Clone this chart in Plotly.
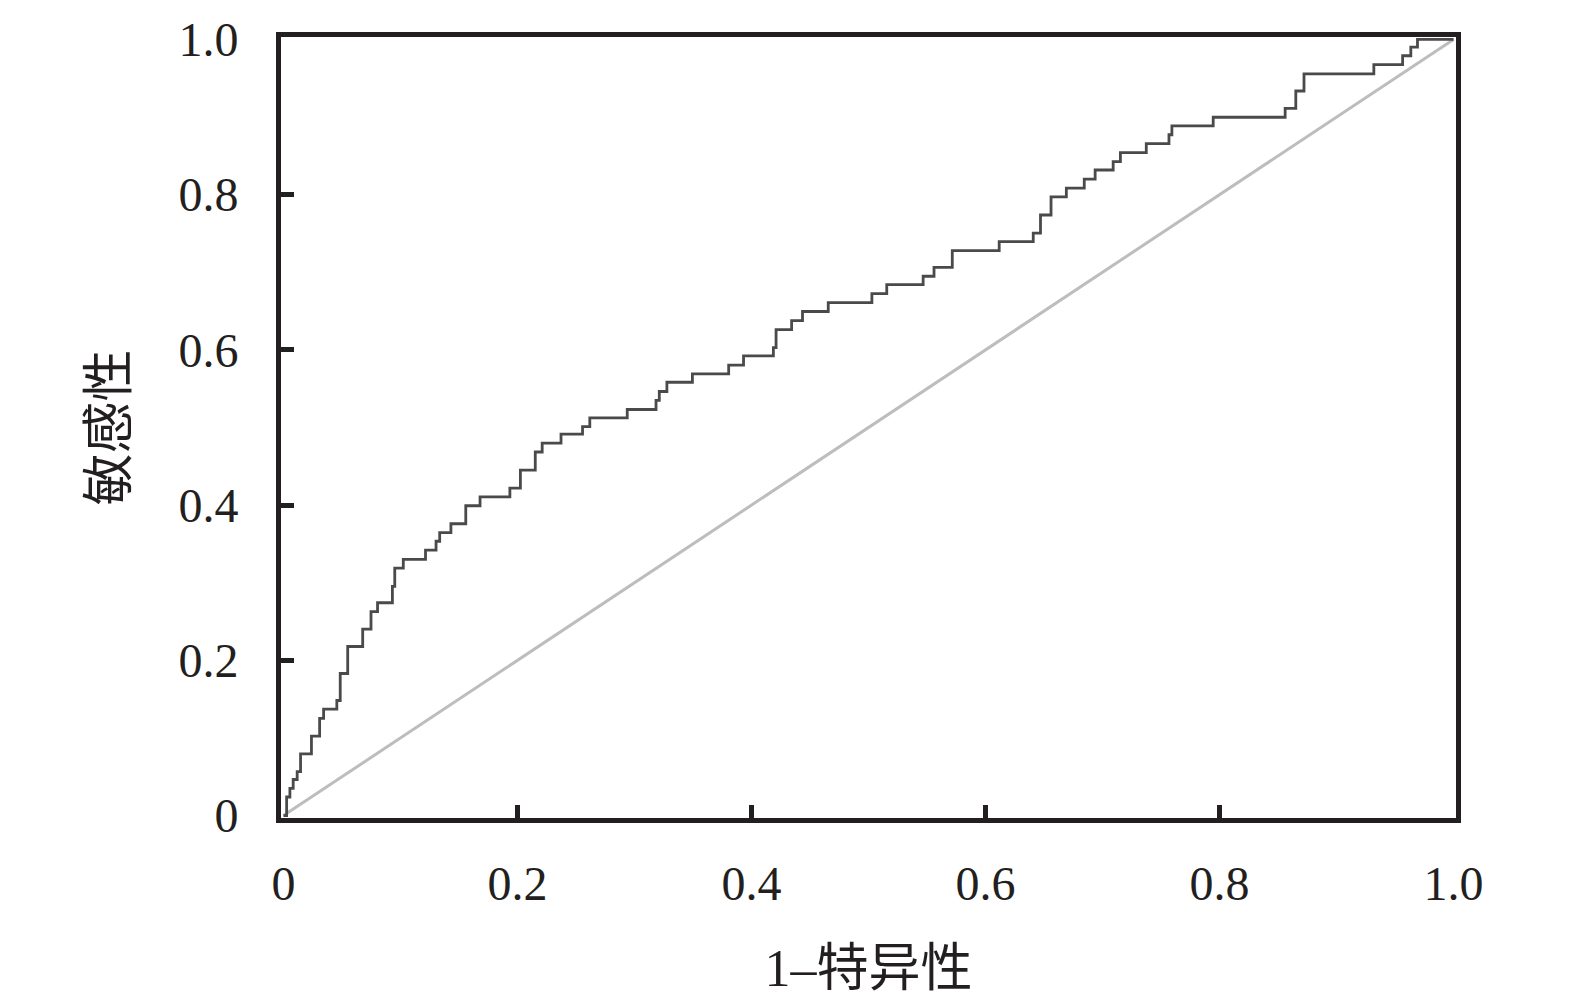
import plotly.graph_objects as go

# ROC curve points (1 - specificity, sensitivity)
fpr = [0.0, 0.0027, 0.0055, 0.0083, 0.0117, 0.0146, 0.0239, 0.0309, 0.0343, 0.0456,
       0.0485, 0.0549, 0.0677, 0.0748, 0.0804, 0.0931, 0.0951, 0.1024, 0.1214, 0.1304,
       0.1335, 0.1431, 0.1558, 0.1680, 0.1935, 0.2025, 0.2152, 0.2211, 0.2372, 0.2556,
       0.2618, 0.2938, 0.3184, 0.3212, 0.3277, 0.3495, 0.3805, 0.3932, 0.4187, 0.4210,
       0.4343, 0.4436, 0.4656, 0.5029, 0.5156, 0.5467, 0.5560, 0.5716, 0.6117, 0.6408,
       0.6470, 0.6560, 0.6691, 0.6844, 0.6937, 0.7091, 0.7153, 0.7374, 0.7568, 0.7593,
       0.7946, 0.8561, 0.8652, 0.8722, 0.9319, 0.9565, 0.9635, 0.9692, 1.0]
tpr = [0.0, 0.0239, 0.0350, 0.0464, 0.0566, 0.0795, 0.1024, 0.1253, 0.1372, 0.1482,
       0.1830, 0.2178, 0.2402, 0.2627, 0.2742, 0.2954, 0.3187, 0.3302, 0.3420, 0.3534,
       0.3645, 0.3760, 0.3992, 0.4107, 0.4218, 0.4450, 0.4684, 0.4799, 0.4914, 0.5010,
       0.5125, 0.5232, 0.5350, 0.5464, 0.5583, 0.5690, 0.5804, 0.5922, 0.6028, 0.6262,
       0.6377, 0.6495, 0.6610, 0.6724, 0.6842, 0.6949, 0.7064, 0.7280, 0.7394, 0.7504,
       0.7738, 0.7971, 0.8085, 0.8200, 0.8318, 0.8425, 0.8543, 0.8658, 0.8772, 0.8887,
       0.8998, 0.9112, 0.9336, 0.9557, 0.9676, 0.9790, 0.9901, 1.0, 1.0]

ref_x = [0.0, 1.0]
ref_y = [0.0, 1.0]

x_ticks = [0, 0.2, 0.4, 0.6, 0.8, 1.0]
x_tick_labels = ["0", "0.2", "0.4", "0.6", "0.8", "1.0"]
y_ticks = [0, 0.2, 0.4, 0.6, 0.8, 1.0]
y_tick_labels = ["0", "0.2", "0.4", "0.6", "0.8", "1.0"]
inner_ticks = [0.2, 0.4, 0.6, 0.8]

x_title = "1–特异性"
y_title = "敏感性"

FONT = "Liberation Serif, Noto Sans CJK SC, serif"
AXC = "#231f20"

fig = go.Figure()
fig.add_trace(go.Scatter(x=ref_x, y=ref_y, mode="lines",
                         line=dict(color="#bdbdbd", width=3), hoverinfo="skip"))
fig.add_trace(go.Scatter(x=fpr, y=tpr, mode="lines",
                         line=dict(color="#4a4a4a", width=2.8, shape="hv")))

LW = 5
epsx = 2.5 / 1180
epsy = 2.5 / 786

fig.update_layout(
    width=1567, height=998,
    margin=dict(l=273, r=119, t=29, b=188, autoexpand=False),
    paper_bgcolor="white", plot_bgcolor="white",
    showlegend=False,
    font=dict(family=FONT, size=48, color=AXC),
)
fig.update_xaxes(
    automargin=False,
    range=[-epsx, 1 + epsx], showgrid=False, zeroline=False,
    showline=True, linewidth=LW, linecolor=AXC, mirror=True,
    ticks="", tickvals=x_ticks, ticktext=x_tick_labels,
    minor=dict(tickvals=inner_ticks, ticks="inside", ticklen=13, tickwidth=5,
               tickcolor=AXC, showgrid=False),
    ticklabelstandoff=19,
    title=dict(text=x_title, standoff=43, font=dict(family=FONT, size=52, color=AXC)),
)
fig.update_yaxes(
    automargin=False,
    range=[-epsy, 1 + epsy], showgrid=False, zeroline=False,
    showline=True, linewidth=LW, linecolor=AXC, mirror=True,
    ticks="", tickvals=y_ticks, ticktext=y_tick_labels,
    minor=dict(tickvals=inner_ticks, ticks="inside", ticklen=13, tickwidth=5,
               tickcolor=AXC, showgrid=False),
    ticklabelstandoff=28,
    title=dict(text=y_title, standoff=36, font=dict(family=FONT, size=52, color=AXC)),
)

fig.write_html("out.html")
